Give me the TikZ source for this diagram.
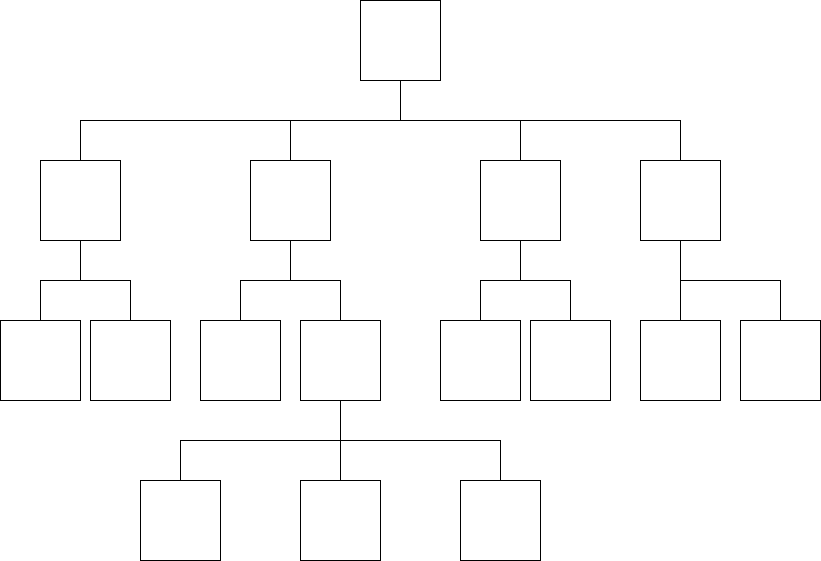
\documentclass[tikz,border=0pt]{standalone}
\begin{document}
\begin{tikzpicture}[x=1pt,y=-1pt,line width=1pt,
  box/.style={draw=black,fill=white,minimum width=80pt,minimum height=80pt,inner sep=0pt,anchor=north west,outer sep=0pt},
  link/.style={draw=black}]
\useasboundingbox (-0.5,-0.5) rectangle (820.5,560.5);
% root
\node[box] (r) at (360,0) {};
% first level
\node[box] (a) at (40,160) {};
\node[box] (b) at (250,160) {};
\node[box] (c) at (480,160) {};
\node[box] (d) at (640,160) {};
% second level
\node[box] (a1) at (0,320) {};
\node[box] (a2) at (90,320) {};
\node[box] (b1) at (200,320) {};
\node[box] (b2) at (300,320) {};
\node[box] (c1) at (440,320) {};
\node[box] (c2) at (530,320) {};
\node[box] (d1) at (640,320) {};
\node[box] (d2) at (740,320) {};
% third level
\node[box] (e1) at (140,480) {};
\node[box] (e2) at (300,480) {};
\node[box] (e3) at (460,480) {};
% connectors
\foreach \p/\k in {r/a,r/b,r/c,r/d,a/a1,a/a2,b/b1,b/b2,c/c1,c/c2,d/d1,d/d2,b2/e1,b2/e2,b2/e3}
  \draw[link] (\p.south) -- ++(0,40) -| (\k.north);
\end{tikzpicture}
\end{document}
